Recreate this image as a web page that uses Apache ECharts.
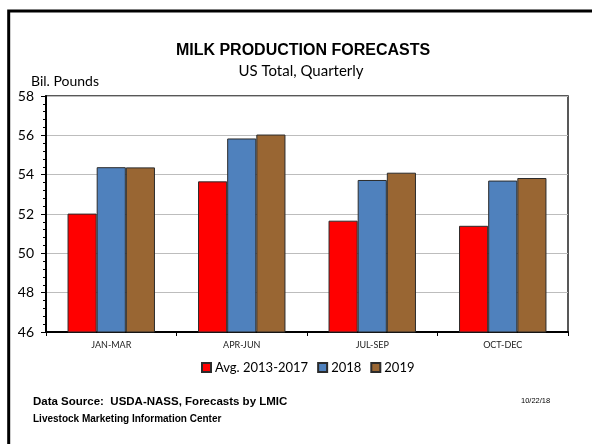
<!DOCTYPE html>
<html><head><meta charset="utf-8">
<script src="https://cdn.jsdelivr.net/npm/echarts@6/dist/echarts.min.js"></script>
<style>html,body{margin:0;padding:0;background:#fff;}#c{width:592px;height:444px;}</style>
</head><body><div id="c"></div>
<script>
const categories = ['JAN-MAR', 'APR-JUN', 'JUL-SEP', 'OCT-DEC'];
const avg2013_2017 = [52.02, 53.66, 51.66, 51.40];
const y2018 = [54.38, 55.84, 53.73, 53.70];
const y2019 = [54.37, 56.04, 54.10, 53.83];
const seriesNames = ['Avg. 2013-2017', '2018', '2019'];
const yTicks = { min: 46, max: 58, interval: 2 };

const colors = ['#FF0000', '#4F81BD', '#996633'];
const chart = echarts.init(document.getElementById('c'));
const barStyle = (c) => ({ color: c, borderColor: '#2b2b2b', borderWidth: 1 });
chart.setOption({
  animation: false,
  backgroundColor: '#fff',
  title: [
    { text: 'MILK PRODUCTION FORECASTS', left: 298, textAlign: 'center', top: 38,
      textStyle: { fontFamily: 'Liberation Sans, Arial', fontWeight: 'bold', fontSize: 16, color: '#000' } },
    { text: 'US Total, Quarterly', left: 296, textAlign: 'center', top: 59,
      textStyle: { fontFamily: 'Lato', fontWeight: 'normal', fontSize: 15, color: '#000' } }
  ],
  legend: {
    data: seriesNames, left: 196, top: 356, orient: 'horizontal',
    itemWidth: 9, itemHeight: 9, itemGap: 9,
    textStyle: { fontFamily: 'Lato', fontSize: 13, color: '#000', padding: [0, 0, 0, -1] },
    icon: 'rect'
  },
  grid: { left: 46, top: 96, right: 24, bottom: 112, show: true, borderColor: '#222', borderWidth: 1.5, backgroundColor: 'transparent' },
  xAxis: {
    type: 'category', data: categories,
    axisLine: { lineStyle: { color: '#000', width: 2 } },
    axisTick: { show: true, length: 4, lineStyle: { color: '#000' } },
    axisLabel: { fontFamily: 'Lato', fontSize: 9, color: '#222', margin: 9 },
    splitLine: { show: false }
  },
  yAxis: {
    type: 'value', min: yTicks.min, max: yTicks.max, interval: yTicks.interval,
    name: 'Bil. Pounds', nameLocation: 'end', nameGap: 8,
    nameTextStyle: { fontFamily: 'Lato', fontSize: 14, color: '#000', align: 'left', padding: [0, 0, 0, -15] },
    axisLine: { show: true, lineStyle: { color: '#000', width: 2 } },
    axisTick: { show: true, length: 5, lineStyle: { color: '#000' } },
    minorTick: { show: true, splitNumber: 5, length: 3, lineStyle: { color: '#000' } },
    axisLabel: { fontFamily: 'Lato', fontSize: 14, color: '#000', margin: 12 },
    splitLine: { show: true, lineStyle: { color: '#bdbdbd', width: 1 } }
  },
  series: [
    { name: seriesNames[0], type: 'bar', data: avg2013_2017, itemStyle: barStyle(colors[0]), barGap: '0%', barCategoryGap: '33%' },
    { name: seriesNames[1], type: 'bar', data: y2018, itemStyle: barStyle(colors[1]), barGap: '0%', barCategoryGap: '33%' },
    { name: seriesNames[2], type: 'bar', data: y2019, itemStyle: barStyle(colors[2]), barGap: '0%', barCategoryGap: '33%' }
  ],
  graphic: [
    { type: 'polyline', shape: { points: [[8.7, 450], [8.7, 11], [600, 11]] }, style: { stroke: '#000', lineWidth: 3, fill: null }, silent: true },
    { type: 'text', left: 33, top: 396, style: { text: 'Data Source:  USDA-NASS, Forecasts by LMIC', font: 'bold 11.5px "Liberation Sans", Arial', fill: '#000' } },
    { type: 'text', left: 33, top: 414, style: { text: 'Livestock Marketing Information Center', font: 'bold 10px "Liberation Sans", Arial', fill: '#000' } },
    { type: 'text', left: 521, top: 397, style: { text: '10/22/18', font: '7.5px "Liberation Sans", Arial', fill: '#000' } }
  ]
});
</script>
</body></html>
